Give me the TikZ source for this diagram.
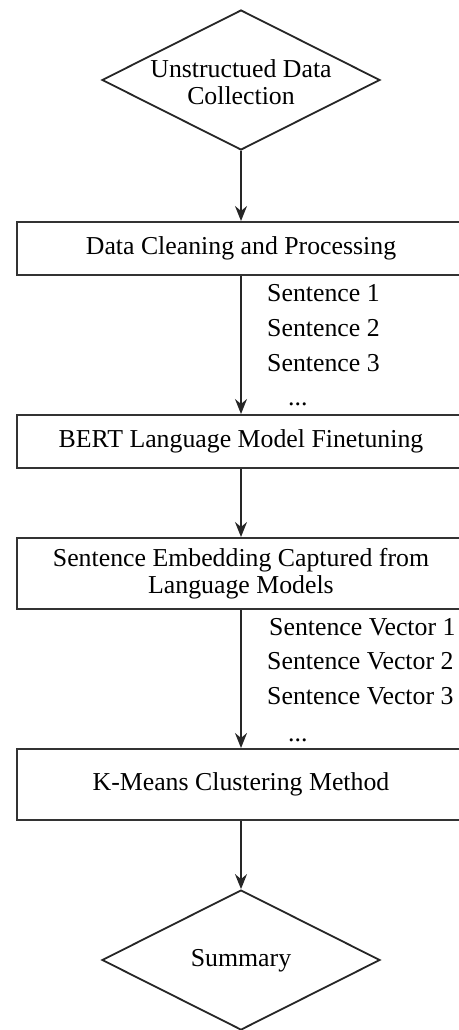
\documentclass[tikz,border=0pt]{standalone}
\usepackage{fontspec}
\setmainfont{Liberation Serif}
\usetikzlibrary{shapes.geometric,arrows.meta}
\begin{document}
\begin{tikzpicture}[x=1pt,y=-1pt,
  every node/.style={font=\fontsize{25.8}{27}\selectfont},
  decision/.style={draw=black!85, line width=1.8pt, shape=diamond, inner sep=0pt,
    minimum width=278pt, minimum height=140pt},
  dtext/.style={align=center, inner sep=0pt},
  process/.style={draw=black!80, line width=2pt, rectangle, minimum width=448pt, align=center, inner sep=0pt},
  lbl/.style={anchor=base west, inner sep=0pt},
  flow/.style={draw=black!85, line width=2pt, -{Stealth[length=15pt,width=12pt,inset=5pt]}}]
\useasboundingbox (0,0) rectangle (458,1030);
\node[decision] (d1) at (241,80) {};
\node[dtext] (t1) at (241,82) {Unstructued Data\\Collection};
\node[process, minimum height=53pt] (b1) at (241,248.5) {Data Cleaning and Processing};
\node[process, minimum height=53pt] (b2) at (241,441.5) {BERT Language Model Finetuning};
\node[process, minimum height=71pt] (b3) at (241,573.5) {Sentence Embedding Captured from\\Language Models};
\node[process, minimum height=71pt] (b4) at (241,784.5) {K-Means Clustering Method};
\node[decision] (d2) at (241,960) {};
\node[dtext] (t2) at (241,961) {Summary};
\node[lbl] (s1) at (267,301) {Sentence 1};
\node[lbl] (s2) at (267,336) {Sentence 2};
\node[lbl] (s3) at (267,371) {Sentence 3};
\node[lbl] (s4) at (288,405) {...};
\node[lbl] (v1) at (269,635) {Sentence Vector 1};
\node[lbl] (v2) at (267,669) {Sentence Vector 2};
\node[lbl] (v3) at (267,704) {Sentence Vector 3};
\node[lbl] (v4) at (288,741) {...};
\draw[flow] (d1.south) -- (b1.north);
\draw[flow] (b1.south) -- (b2.north);
\draw[flow] (b2.south) -- (b3.north);
\draw[flow] (b3.south) -- (b4.north);
\draw[flow] (b4.south) -- (d2.north);
\end{tikzpicture}
\end{document}
